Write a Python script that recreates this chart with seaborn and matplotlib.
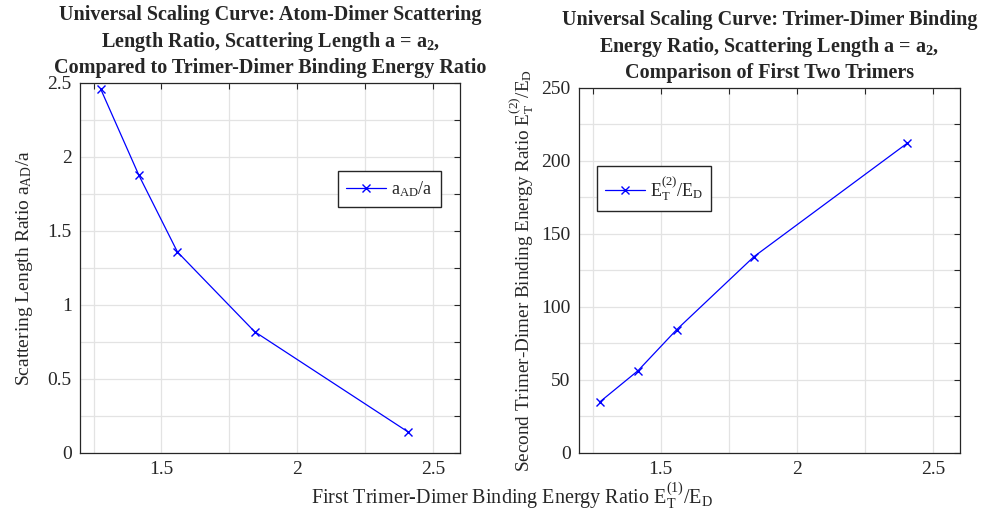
import matplotlib
matplotlib.use("Agg")
import matplotlib.pyplot as plt
import seaborn as sns
import numpy as np
import pandas as pd

# values
E1_ratio = [1.276, 1.417, 1.559, 1.843, 2.407]
aAD_ratio = [2.46, 1.876, 1.358, 0.82, 0.144]
E2_ratio = [34.9, 56.4, 84.5, 134.5, 212.3]

sns.set_style("white")
plt.rcParams['font.family'] = ['Liberation Serif', 'DejaVu Serif']
plt.rcParams['mathtext.fontset'] = 'custom'
plt.rcParams['mathtext.rm'] = 'Liberation Serif'
plt.rcParams['mathtext.it'] = 'Liberation Serif:italic'
plt.rcParams['mathtext.bf'] = 'Liberation Serif:bold'

AXCOL = '#262626'
GRIDCOL = '#e3e3e3'

df = pd.DataFrame({"E1": E1_ratio, "aAD": aAD_ratio, "E2": E2_ratio})

fig = plt.figure(figsize=(9.83, 5.17), dpi=100)
ax1 = fig.add_axes([0.0814, 0.1238, 0.3866, 0.7157])
ax2 = fig.add_axes([0.589, 0.1238, 0.3876, 0.706])


def style_axes(ax, yticks, ylabels):
    xt = np.arange(1.25, 2.51, 0.25)
    ax.set_xlim(1.2, 2.6)
    ax.set_xticks(xt)
    ax.set_xticklabels(["" if abs(v * 2 - round(v * 2)) > 1e-6 else ("%g" % v) for v in xt])
    ax.set_yticks(yticks)
    ax.set_yticklabels(ylabels)
    ax.grid(True, color=GRIDCOL, linewidth=0.9)
    ax.set_axisbelow(True)
    ax.tick_params(direction='in', length=4, width=0.8, colors=AXCOL,
                   labelsize=14, top=True, right=True, pad=6)
    for s in ax.spines.values():
        s.set_color(AXCOL)
        s.set_linewidth(0.9)
    ax.set_xlabel("")


line_kw = dict(color='blue', marker='x', markersize=6, markeredgewidth=1.0,
               markeredgecolor='blue', linewidth=0.9)
leg_kw = dict(loc='upper left', fancybox=False, edgecolor=AXCOL, framealpha=1,
              fontsize=13, handlelength=2.2, handletextpad=0.3,
              borderpad=0.45, borderaxespad=0)

# left panel
sns.lineplot(data=df, x="E1", y="aAD", ax=ax1, label=r'a$_{\mathrm{AD}}$/a', **line_kw)
yt1 = np.arange(0, 2.51, 0.25)
style_axes(ax1, yt1, [("%g" % v) if abs(v * 2 - round(v * 2)) < 1e-6 else "" for v in yt1])
ax1.set_ylim(0, 2.5)
ax1.set_ylabel(r'Scattering Length Ratio a$_{\mathrm{AD}}$/a', fontsize=14,
               color=AXCOL, labelpad=9)
ax1.set_title("Universal Scaling Curve: Atom-Dimer Scattering\n"
              r"Length Ratio, Scattering Length a = $\mathbf{a_{2}}$," "\n"
              "Compared to Trimer-Dimer Binding Energy Ratio",
              fontsize=14.5, fontweight='bold', pad=7, linespacing=1.3)
ax1.legend(bbox_to_anchor=(0.679, 0.762), **leg_kw)

# right panel
sns.lineplot(data=df, x="E1", y="E2", ax=ax2,
             label=r'E$_{\mathrm{T}}^{(2)}$/E$_{\mathrm{D}}$', **line_kw)
yt2 = np.arange(0, 251, 25)
style_axes(ax2, yt2, [("%d" % v) if v % 50 == 0 else "" for v in yt2])
ax2.set_ylim(0, 250)
ax2.set_ylabel(r'Second Trimer-Dimer Binding Energy Ratio E$_{\mathrm{T}}^{(2)}$/E$_{\mathrm{D}}$',
               fontsize=13.8, color=AXCOL, labelpad=4)
ax2.set_title("Universal Scaling Curve: Trimer-Dimer Binding\n"
              r"Energy Ratio, Scattering Length a = $\mathbf{a_{2}}$," "\n"
              "Comparison of First Two Trimers",
              fontsize=14.5, fontweight='bold', pad=7, linespacing=1.3)
ax2.legend(bbox_to_anchor=(0.047, 0.786), **leg_kw)

fig.text(0.521, 0.012, r'First Trimer-Dimer Binding Energy Ratio E$_{\mathrm{T}}^{(1)}$/E$_{\mathrm{D}}$',
         ha='center', va='bottom', fontsize=14.5, color=AXCOL)

fig.savefig("out.png", dpi=100)
